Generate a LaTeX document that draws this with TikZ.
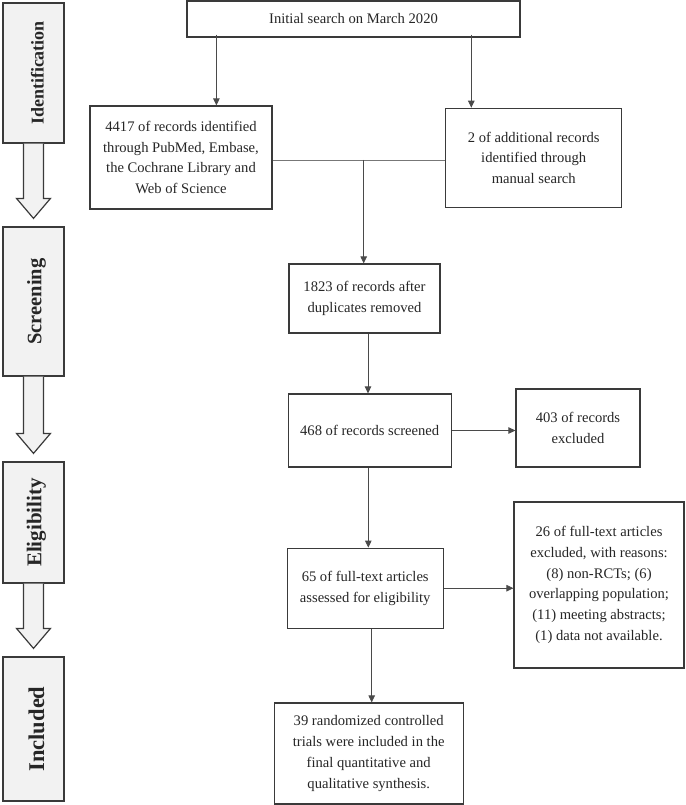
\documentclass[tikz,border=0pt]{standalone}
\usepackage{fontspec}
\setmainfont{Liberation Serif}
\usetikzlibrary{arrows.meta,calc}
\definecolor{boxc}{HTML}{3A3A3A}
\definecolor{linec}{HTML}{4A4A4A}
\definecolor{stagefill}{HTML}{F2F2F2}
\begin{document}
\begin{tikzpicture}[x=1pt,y=-1pt,
  box/.style={draw=boxc,line width=1.2pt,fill=white,align=center,inner sep=0pt,
    font=\fontsize{14.6}{20.8}\selectfont,text=black!85},
  arr/.style={draw=linec,line width=0.8pt,-{Triangle[length=7pt,width=6.5pt]}},
  ln/.style={draw=linec!75,line width=0.8pt},
  stagebox/.style={draw=boxc,line width=1.2pt,fill=stagefill,minimum width=61pt,inner sep=0pt},
  stagetxt/.style={rotate=90,font=\bfseries,text=black!85},
  stagearrow/.style={draw=boxc,line width=1.2pt,fill=stagefill,line join=miter}
]
\useasboundingbox (0,0) rectangle (685,805);

% stage column
\node[stagebox,minimum height=140pt] (id) at (33.5,73) {};
\node[stagebox,minimum height=149pt] (sc) at (33.5,301.5) {};
\node[stagebox,minimum height=121pt] (el) at (33.5,522.5) {};
\node[stagebox,minimum height=144pt] (inc) at (33.5,729) {};
\foreach \a/\b in {id/sc, sc/el, el/inc}{
  \draw[stagearrow] let \p1=(\a.south), \p2=(\b.north) in
    (\x1-10pt,\y1) -- (\x1-10pt,\y2+28pt) -- (\x1-17pt,\y2+28pt) -- (\x1,\y2+8pt)
    -- (\x1+17pt,\y2+28pt) -- (\x1+10pt,\y2+28pt) -- (\x1+10pt,\y1);
}
\node[stagetxt,font=\bfseries\fontsize{18}{20}\selectfont] (idt) at ([xshift=4pt]id.center) {Identification};
\node[stagetxt,font=\bfseries\fontsize{20.5}{22}\selectfont] (sct) at ([xshift=3pt]sc.center) {Screening};
\node[stagetxt,font=\bfseries\fontsize{21}{23}\selectfont] (elt) at ([xshift=3pt]el.center) {Eligibility};
\node[stagetxt,font=\bfseries\fontsize{22.5}{24}\selectfont] (inct) at ([xshift=3pt]inc.center) {Included};

% flow boxes
\node[box,minimum width=333pt,minimum height=36pt] (top) at (353.5,19) {Initial search on March 2020};
\node[box,minimum width=182pt,minimum height=103pt] (r4417) at (181,157.5)
  {4417 of records identified\\through PubMed, Embase,\\the Cochrane Library and\\Web of Science};
\node[box,minimum width=176pt,minimum height=99pt] (r2) at (533.7,157.8)
  {2 of additional records\\identified through\\manual search};
\node[box,minimum width=151pt,minimum height=69pt] (r1823) at (364.5,298.5)
  {1823 of records after\\duplicates removed};
\node[box,minimum width=163pt,minimum height=73pt] (r468) at (369.7,430.5)
  {468 of records screened};
\node[box,minimum width=124pt,minimum height=78pt] (r403) at (578,428)
  {403 of records\\excluded};
\node[box,minimum width=156pt,minimum height=80pt] (r65) at (365.2,588.2)
  {65 of full-text articles\\assessed for eligibility};
\node[box,minimum width=170pt,minimum height=166pt] (r26) at (599,585)
  {26 of full-text articles\\excluded, with reasons:\\(8) non-RCTs; (6)\\overlapping population;\\(11) meeting abstracts;\\(1) data not available.};
\node[box,minimum width=189pt,minimum height=101pt] (r39) at (368.7,753.5)
  {39 randomized controlled\\trials were included in the\\final quantitative and\\qualitative synthesis.};

% connectors
\draw[arr] ([xshift=30pt,yshift=3pt]top.south west) -- ([xshift=30pt]top.south west |- r4417.north);
\draw[arr] ([xshift=-49.3pt,yshift=3pt]top.south east) -- ([xshift=-49.3pt]top.south east |- r2.north);
\coordinate (j) at (363.7,160);
\draw[ln] (r4417.east |- j) -- (r2.west |- j);
\draw[arr] (j) -- (j |- r1823.north);
\draw[arr] ([xshift=3.5pt]r1823.south) -- ([xshift=3.5pt]r1823.south |- r468.north);
\draw[arr] (r468.east) -- (r468.east -| r403.west);
\draw[arr] ([xshift=-1.4pt]r468.south) -- ([xshift=-1.4pt]r468.south |- r65.north);
\draw[arr] (r65.east) -- (r65.east -| r26.west);
\draw[arr] ([xshift=6.5pt]r65.south) -- ([xshift=6.5pt]r65.south |- r39.north);
\end{tikzpicture}
\end{document}
